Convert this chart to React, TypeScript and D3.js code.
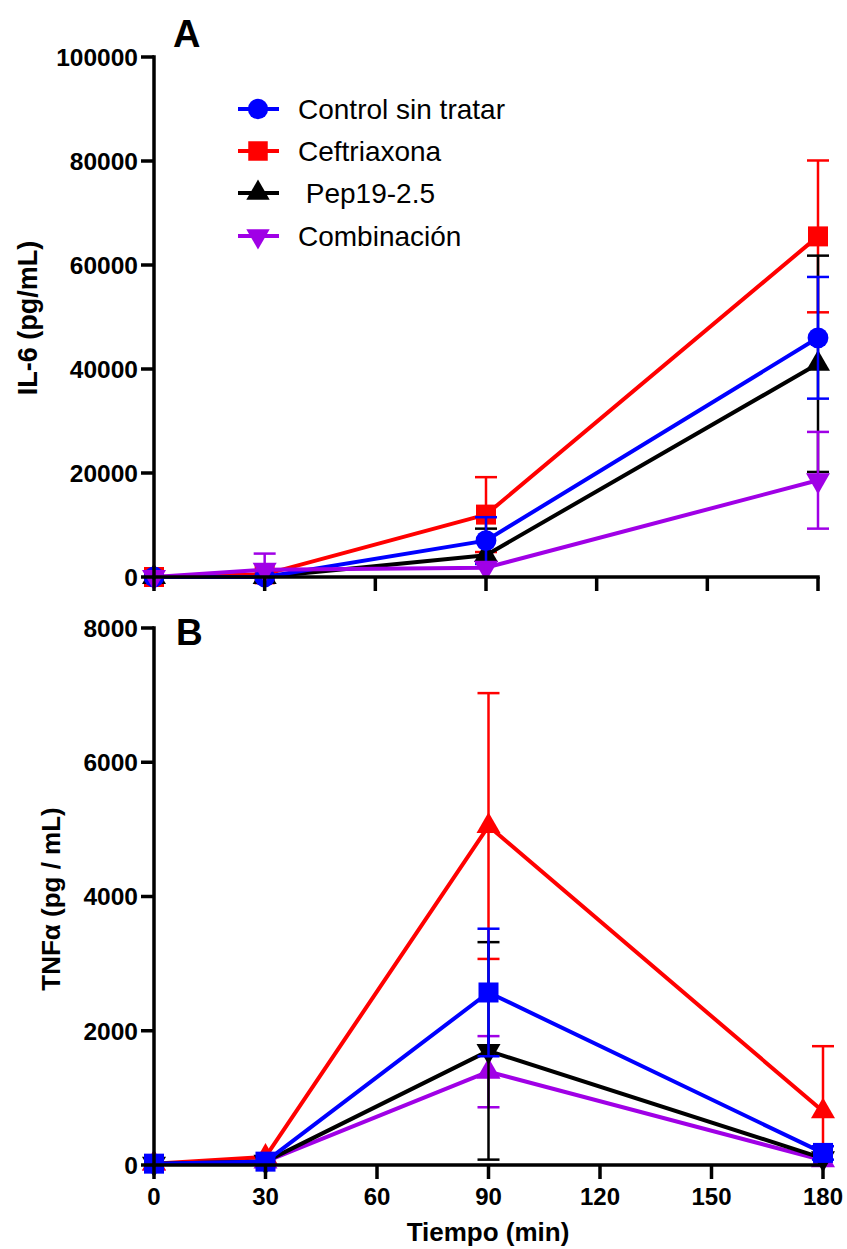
import React from "react";
import * as d3 from "d3";

const times = [0, 30, 90, 180];
const xTicks = [0, 30, 60, 90, 120, 150, 180];

const seriesNames = ["Control sin tratar", "Ceftriaxona", " Pep19-2.5", "Combinación"];
const seriesColors = ["#0000ff", "#ff0000", "#000000", "#a000e6"];

// Panel A: IL-6
const il6Control = [0, 0, 7000, 46000];
const il6ControlErr = [0, 0, 4500, 11700];
const il6Ceftriaxona = [0, 500, 12000, 65500];
const il6CeftriaxonaErr = [0, 0, 7200, 14600];
const il6Pep = [0, 0, 4200, 41000];
const il6PepErr = [0, 0, 5100, 20800];
const il6Comb = [0, 1400, 1800, 18600];
const il6CombErr = [0, 3100, 0, 9300];
const il6Ticks = [0, 20000, 40000, 60000, 80000, 100000];

// Panel B: TNFα
const tnfControl = [20, 50, 2570, 180];
const tnfControlErr = [0, 0, 950, 100];
const tnfCeftriaxona = [20, 120, 5050, 800];
const tnfCeftriaxonaErr = [0, 0, 1980, 970];
const tnfPep = [20, 50, 1700, 100];
const tnfPepErr = [0, 0, 1620, 0];
const tnfComb = [20, 50, 1390, 70];
const tnfCombErr = [0, 0, 530, 0];
const tnfTicks = [0, 2000, 4000, 6000, 8000];

type Shape = "circle" | "square" | "triUp" | "triDown";

interface Series {
  name: string;
  color: string;
  values: number[];
  errs: number[];
  shape: Shape;
}

const FONT = "Arial, 'Liberation Sans', Helvetica, sans-serif";

function symbolPath(shape: Shape, scale = 1): { d: string; rotate: number } {
  switch (shape) {
    case "circle":
      return { d: d3.symbol(d3.symbolCircle, 340 * scale)() || "", rotate: 0 };
    case "square":
      return { d: d3.symbol(d3.symbolSquare, 400 * scale)() || "", rotate: 0 };
    case "triUp":
      return { d: d3.symbol(d3.symbolTriangle, 250 * scale)() || "", rotate: 0 };
    case "triDown":
      return { d: d3.symbol(d3.symbolTriangle, 250 * scale)() || "", rotate: 180 };
  }
}

function Marker({ shape, x, y, color, scale = 1 }: { shape: Shape; x: number; y: number; color: string; scale?: number }) {
  const { d, rotate } = symbolPath(shape, scale);
  return <path d={d} fill={color} transform={`translate(${x},${y}) rotate(${rotate})`} />;
}

function Panel({
  series,
  order,
  yMax,
  yTicks,
  yTop,
  yBottom,
  xLeft,
  xRight,
  showXLabels,
}: {
  series: Series[];
  order: number[];
  yMax: number;
  yTicks: number[];
  yTop: number;
  yBottom: number;
  xLeft: number;
  xRight: number;
  showXLabels: boolean;
}) {
  const x = d3.scaleLinear().domain([0, 180]).range([xLeft, xRight]);
  const y = d3.scaleLinear().domain([0, yMax]).range([yBottom, yTop]);
  const line = d3
    .line<number>()
    .x((_, i) => x(times[i]))
    .y((v) => y(v));
  const capHalf = 11;
  return (
    <g>
      {order.map((si) => {
        const s = series[si];
        return (
          <g key={s.name}>
            {s.values.map((v, i) => {
              const e = s.errs[i];
              if (!e) return null;
              const hi = v + e;
              const lo = v - e;
              const cx = x(times[i]);
              return (
                <g key={i} stroke={s.color} strokeWidth={2.5}>
                  <line x1={cx} x2={cx} y1={y(hi)} y2={y(Math.max(lo, 0))} />
                  <line x1={cx - capHalf} x2={cx + capHalf} y1={y(hi)} y2={y(hi)} />
                  {lo > 0 && <line x1={cx - capHalf} x2={cx + capHalf} y1={y(lo)} y2={y(lo)} />}
                </g>
              );
            })}
            <path d={line(s.values) || ""} fill="none" stroke={s.color} strokeWidth={4} strokeLinejoin="round" />
            {s.values.map((v, i) => (
              <Marker key={i} shape={s.shape} x={x(times[i])} y={y(v)} color={s.color} />
            ))}
          </g>
        );
      })}
      {/* axes */}
      <line x1={xLeft} x2={xLeft} y1={yTop - 1.75} y2={yBottom + 1.75} stroke="#000" strokeWidth={3.5} />
      <line x1={xLeft - 1.75} x2={xRight + 1.75} y1={yBottom} y2={yBottom} stroke="#000" strokeWidth={3.5} />
      {yTicks.map((t) => (
        <g key={t}>
          <line x1={xLeft - 13} x2={xLeft} y1={y(t)} y2={y(t)} stroke="#000" strokeWidth={3.5} />
          <text
            x={xLeft - 16}
            y={y(t)}
            dy="0.36em"
            textAnchor="end"
            fontFamily={FONT}
            fontWeight="bold"
            fontSize={24.5}
          >
            {t}
          </text>
        </g>
      ))}
      {xTicks.map((t) => (
        <g key={t}>
          <line x1={x(t)} x2={x(t)} y1={yBottom} y2={yBottom + 14} stroke="#000" strokeWidth={3.5} />
          {showXLabels && (
            <text x={x(t)} y={yBottom + 40} textAnchor="middle" fontFamily={FONT} fontWeight="bold" fontSize={24}>
              {t}
            </text>
          )}
        </g>
      ))}
    </g>
  );
}

export default function App() {
  const panelA: Series[] = [
    { name: seriesNames[0], color: seriesColors[0], values: il6Control, errs: il6ControlErr, shape: "circle" },
    { name: seriesNames[1], color: seriesColors[1], values: il6Ceftriaxona, errs: il6CeftriaxonaErr, shape: "square" },
    { name: seriesNames[2], color: seriesColors[2], values: il6Pep, errs: il6PepErr, shape: "triUp" },
    { name: seriesNames[3], color: seriesColors[3], values: il6Comb, errs: il6CombErr, shape: "triDown" },
  ];
  const panelB: Series[] = [
    { name: seriesNames[0], color: seriesColors[0], values: tnfControl, errs: tnfControlErr, shape: "square" },
    { name: seriesNames[1], color: seriesColors[1], values: tnfCeftriaxona, errs: tnfCeftriaxonaErr, shape: "triUp" },
    { name: seriesNames[2], color: seriesColors[2], values: tnfPep, errs: tnfPepErr, shape: "triDown" },
    { name: seriesNames[3], color: seriesColors[3], values: tnfComb, errs: tnfCombErr, shape: "triUp" },
  ];
  const legendShapes: Shape[] = ["circle", "square", "triUp", "triDown"];
  const legendY = [109, 151, 193, 236];

  return (
    <svg
      width={847}
      height={1249}
      style={{ position: "absolute", left: 0, top: 0, background: "#fff" }}
      xmlns="http://www.w3.org/2000/svg"
    >
      <rect width={847} height={1249} fill="#fff" />
      <Panel
        series={panelA}
        order={[1, 2, 0, 3]}
        yMax={100000}
        yTicks={il6Ticks}
        yTop={57}
        yBottom={577}
        xLeft={154}
        xRight={818}
        showXLabels={false}
      />
      <Panel
        series={panelB}
        order={[3, 1, 2, 0]}
        yMax={8000}
        yTicks={tnfTicks}
        yTop={628}
        yBottom={1165}
        xLeft={154}
        xRight={823}
        showXLabels={true}
      />
      {/* panel letters */}
      <text x={173} y={47} fontFamily={FONT} fontWeight="bold" fontSize={38}>
        A
      </text>
      <text x={176} y={645} fontFamily={FONT} fontWeight="bold" fontSize={37}>
        B
      </text>
      {/* axis titles */}
      <text
        transform="translate(37,318) rotate(-90)"
        textAnchor="middle"
        fontFamily={FONT}
        fontWeight="bold"
        fontSize={27}
      >
        IL-6 (pg/mL)
      </text>
      <text
        transform="translate(60,899) rotate(-90)"
        textAnchor="middle"
        fontFamily={FONT}
        fontWeight="bold"
        fontSize={26}
      >
        TNFα (pg / mL)
      </text>
      <text x={488} y={1241} textAnchor="middle" fontFamily={FONT} fontWeight="bold" fontSize={26}>
        Tiempo (min)
      </text>
      {/* legend */}
      {seriesNames.map((n, i) => (
        <g key={n}>
          <line x1={238} x2={279} y1={legendY[i]} y2={legendY[i]} stroke={seriesColors[i]} strokeWidth={4} />
          <Marker shape={legendShapes[i]} x={258} y={legendY[i]} color={seriesColors[i]} scale={0.95} />
          <text
            x={298}
            y={legendY[i]}
            dy="0.36em"
            fontFamily={FONT}
            fontSize={28}
            style={{ whiteSpace: "pre" }}
            xmlSpace="preserve"
          >
            {n}
          </text>
        </g>
      ))}
    </svg>
  );
}
